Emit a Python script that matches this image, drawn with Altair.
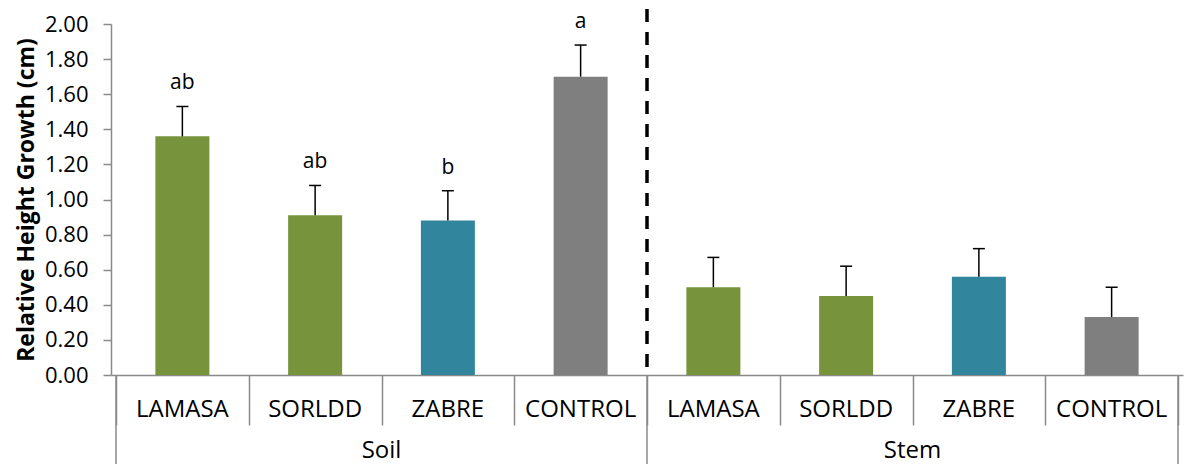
import altair as alt
import pandas as pd

groups = ["Soil", "Soil", "Soil", "Soil", "Stem", "Stem", "Stem", "Stem"]
treatments = ["LAMASA", "SORLDD", "ZABRE", "CONTROL", "LAMASA", "SORLDD", "ZABRE", "CONTROL"]
means = [1.36, 0.91, 0.88, 1.70, 0.50, 0.45, 0.56, 0.33]
errors = [0.17, 0.17, 0.17, 0.18, 0.17, 0.17, 0.16, 0.17]
letters = ["ab", "ab", "b", "a", "", "", "", ""]
y_ticks = [0.0, 0.2, 0.4, 0.6, 0.8, 1.0, 1.2, 1.4, 1.6, 1.8, 2.0]
treatment_order = ["LAMASA", "SORLDD", "ZABRE", "CONTROL"]
treatment_colors = ["#77933C", "#77933C", "#31859C", "#7F7F7F"]

n = len(groups)
df = pd.DataFrame({
    "group": groups,
    "treatment": treatments,
    "mean": means,
    "err": errors,
    "letter": letters,
})
df["pos"] = [i + 0.5 for i in range(n)]
df["upper"] = df["mean"] + df["err"]

edges = [i for i in range(n + 1) if i == 0 or i == n or groups[i] != groups[i - 1]]
outer_edges = pd.DataFrame({"edge": edges})
inner_edges = pd.DataFrame({"edge": [e for e in edges if 0 < e < n]})

W, H = 1072, 351
FONT = "Open Sans"
GRAY = "#8a8a8a"

x_scale = alt.Scale(domain=[0, n], nice=False, zero=False)
y_scale = alt.Scale(domain=[0, 2], nice=False)

x_axis = alt.Axis(
    values=list(range(n + 1)), labels=False, title=None, tickSize=50,
    tickColor=GRAY, domainColor=GRAY, tickWidth=1.5, domainWidth=1.5, grid=False,
)
y_axis = alt.Axis(
    values=y_ticks, format=".2f", title="Relative Height Growth (cm)",
    tickSize=8, tickColor=GRAY, domainColor=GRAY, tickWidth=1.5, domainWidth=1.5,
    labelFontSize=22, labelFont=FONT, labelColor="black", labelPadding=15,
    labelOverlap=False, labelBound=False, labelFlush=False,
    titleFontSize=23, titleFont=FONT, titleFontWeight="bold", titleColor="black",
    titlePadding=6, grid=False,
)


def X(field):
    return alt.X(field, scale=x_scale, axis=x_axis)


def Y(field):
    return alt.Y(field, scale=y_scale, axis=y_axis)


base = alt.Chart(df)

bars = base.mark_bar(size=54).encode(
    x=X("pos:Q"),
    y=Y("mean:Q"),
    color=alt.Color("treatment:N", scale=alt.Scale(domain=treatment_order, range=treatment_colors), legend=None),
)

err_rules = base.mark_rule(color="black", strokeWidth=1.5).encode(
    x=X("pos:Q"), y=Y("mean:Q"), y2="upper:Q"
)

caps = base.mark_point(shape="stroke", size=144, color="black", strokeWidth=1.5, filled=False, opacity=1).encode(
    x=X("pos:Q"), y=Y("upper:Q")
)

letter_text = base.mark_text(fontSize=21, font=FONT, dy=-23, color="black").encode(
    x=X("pos:Q"), y=Y("upper:Q"), text="letter:N"
)

cat_labels = base.mark_text(fontSize=24, font=FONT, baseline="middle", color="black").encode(
    x=X("pos:Q"), y=alt.value(H + 35), text="treatment:N"
)

group_labels = base.transform_aggregate(
    center="mean(pos)", groupby=["group"]
).mark_text(fontSize=24, font=FONT, baseline="middle", color="black").encode(
    x=X("center:Q"), y=alt.value(H + 76), text="group:N"
)

group_seps = alt.Chart(outer_edges).mark_rule(color=GRAY, strokeWidth=1.5).encode(
    x=X("edge:Q"), y=alt.value(H), y2=alt.value(H + 89)
)

divider = alt.Chart(inner_edges).mark_rule(color="black", strokeWidth=3.5, strokeDash=[13, 10]).encode(
    x=X("edge:Q"), y=alt.value(-15), y2=alt.value(H)
)

chart = alt.layer(
    bars, err_rules, caps, letter_text, cat_labels, group_labels, group_seps, divider
).properties(
    width=W, height=H,
    padding={"left": 103, "top": 16, "right": 2, "bottom": 89},
    autosize=alt.AutoSizeParams(type="none"),
).configure_view(stroke=None)

chart.save("out.html", embed_options={"renderer": "svg", "actions": False})
